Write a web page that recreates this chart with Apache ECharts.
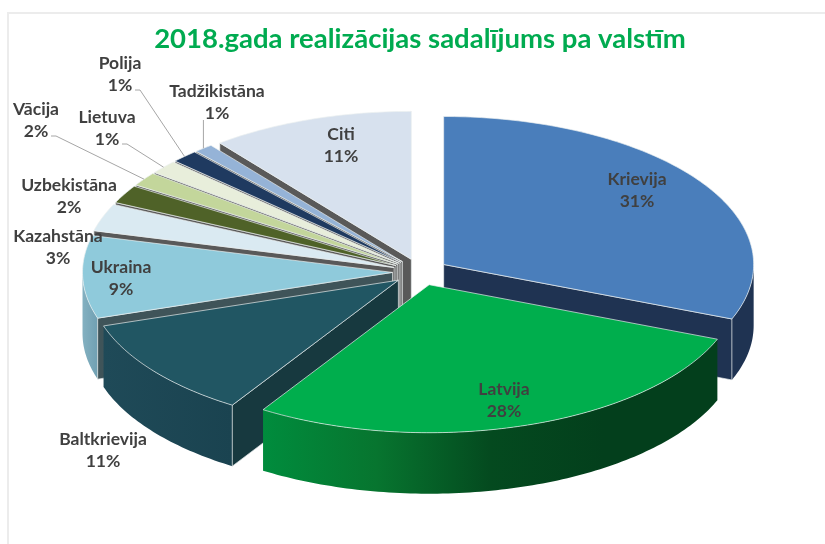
<!DOCTYPE html>
<html>
<head>
<meta charset="utf-8">
<script src="https://cdn.jsdelivr.net/npm/echarts@6/dist/echarts.min.js"></script>
<style>
html, body { margin: 0; padding: 0; background: #fff; }
#chart { width: 825px; height: 544px; }
</style>
</head>
<body>
<div id="chart"></div>
<script>
var categories = ['Krievija', 'Latvija', 'Baltkrievija', 'Ukraina', 'Kazahstāna', 'Uzbekistāna', 'Vācija', 'Lietuva', 'Polija', 'Tadžikistāna', 'Citi'];
// the picture only prints whole percents
var shares = [31, 28, 11, 9, 3, 2, 1.51, 1.49, 1.4, 1, 10.6];

var topColors = ['#4a7ebb', '#00ae4d', '#215663', '#8fcadb', '#daeaf2', '#4f6228', '#c3d69b', '#e8eedb', '#1f3a60', '#95b3d7', '#d7e1ee'];
var edgeColors = ['#1f3352', '#0e3d22', '#17393f', '#3f5459', '#595959', '#595959', '#595959', '#595959', '#595959', '#595959', '#595959'];
var wallStops = [
    ['#1f3352', '#1f3352'], ['#008c3d', '#07752f', '#044a1f', '#033f1c', '#033f1c'], ['#1f4a58', '#1a4350'], ['#84b1c1', '#70a0b2'],
    ['#595959', '#595959'], ['#595959', '#595959'], ['#595959', '#595959'], ['#595959', '#595959'],
    ['#595959', '#595959'], ['#595959', '#595959'], ['#595959', '#595959']
];
// back to front
var drawOrder = [10, 9, 8, 7, 6, 5, 4, 3, 2, 0, 1];
// label centre, pixels
var labelAt = [[637, 190], [504, 400], [103, 450], [121, 278], [58, 247], [69, 196], [36, 120], [107, 128], [120, 74], [217, 102], [341, 145]];
var leaderLabels = [6, 7, 8, 9];

var cx = 420.5, cy = 272, rx = 310, ry = 148, explode = 28, depth = 61;

function arcPoint(center, deg) {
    var a = deg * Math.PI / 180;
    return [center[0] + rx * Math.sin(a), center[1] - ry * Math.cos(a)];
}

function sliceInfo(idx) {
    var before = 0, total = 0;
    for (var i = 0; i < shares.length; i++) {
        if (i < idx) before += shares[i];
        total += shares[i];
    }
    var a0 = before / total * 360;
    var a1 = (before + shares[idx]) / total * 360;
    var mid = (a0 + a1) / 2 * Math.PI / 180;
    var apex = [cx + explode * Math.sin(mid), cy - explode * Math.cos(mid) * ry / rx];
    return {a0: a0, a1: a1, apex: apex};
}

function arcPoints(center, from, to) {
    var pts = [];
    var steps = Math.max(2, Math.ceil(to - from));
    for (var i = 0; i <= steps; i++) {
        pts.push(arcPoint(center, from + (to - from) * i / steps));
    }
    return pts;
}

function down(p) {
    return [p[0], p[1] + depth];
}

function face(points, fill, stroked) {
    return {
        type: 'polygon',
        shape: {points: points},
        style: {fill: fill, stroke: stroked ? 'rgba(235,240,240,0.85)' : fill, lineWidth: stroked ? 0.8 : 0}
    };
}

function renderSlice(params, api) {
    var idx = api.value(0);
    var s = sliceInfo(idx);
    var children = [];
    var p0 = arcPoint(s.apex, s.a0), p1 = arcPoint(s.apex, s.a1);

    var from = Math.max(s.a0, 90), to = Math.min(s.a1, 270);
    if (to > from) {
        var rim = arcPoints(s.apex, from, to);
        var wall = rim.concat(rim.slice().reverse().map(down));
        var stops = wallStops[idx];
        children.push(face(wall, {
            type: 'linear', x: 0, y: 0, x2: 1, y2: 0,
            colorStops: stops.map(function (c, k) { return {offset: k / (stops.length - 1), color: c}; })
        }, false));
    }
    if (Math.sin(s.a0 * Math.PI / 180) < 0) {
        children.push(face([s.apex, p0, down(p0), down(s.apex)], edgeColors[idx], true));
    }
    if (Math.sin(s.a1 * Math.PI / 180) > 0) {
        children.push(face([s.apex, p1, down(p1), down(s.apex)], edgeColors[idx], true));
    }
    children.push(face([s.apex].concat(arcPoints(s.apex, s.a0, s.a1)), topColors[idx], true));
    return {type: 'group', children: children};
}

function renderLabel(params, api) {
    var idx = api.value(0);
    var at = labelAt[idx];
    var children = [];
    if (leaderLabels.indexOf(idx) >= 0) {
        var s = sliceInfo(idx);
        var rimAt = arcPoint(s.apex, (s.a0 + s.a1) / 2);
        var start = [at[0] + 15, at[1] + 16];
        var pts = idx === 9 ? [[rimAt[0], at[1] + 18], [rimAt[0], rimAt[1]]] : [start, [start[0] + 5, start[1]], rimAt];
        children.push({
            type: 'polyline',
            shape: {points: pts},
            style: {fill: 'none', stroke: '#a6a6a6', lineWidth: 1}
        });
    }
    children.push({
        type: 'text',
        style: {
            x: at[0], y: at[1],
            text: categories[idx] + '\n' + Math.round(api.value(1)) + '%',
            fill: '#404040',
            font: 'bold 17.5px Lato',
            lineHeight: 22,
            align: 'center',
            verticalAlign: 'middle'
        }
    });
    return {type: 'group', children: children};
}

var chart = echarts.init(document.getElementById('chart'), null, {renderer: 'canvas'});
chart.setOption({
    backgroundColor: '#ffffff',
    animation: false,
    title: {
        text: '2018.gada realizācijas sadalījums pa valstīm',
        left: 415,
        top: 20,
        textAlign: 'center',
        textStyle: {color: '#00ab50', fontFamily: 'Lato', fontWeight: 'bold', fontSize: 27.5}
    },
    graphic: [{
        type: 'rect',
        silent: true,
        shape: {x: 8, y: 13, width: 900, height: 600},
        style: {fill: 'none', stroke: '#ececec', lineWidth: 2}
    }],
    series: [
        {
            type: 'custom',
            coordinateSystem: 'none',
            renderItem: renderSlice,
            silent: true,
            data: drawOrder.map(function (i) { return [i, shares[i]]; })
        },
        {
            type: 'custom',
            coordinateSystem: 'none',
            renderItem: renderLabel,
            silent: true,
            z: 5,
            data: categories.map(function (c, i) { return [i, shares[i]]; })
        }
    ]
});
</script>
</body>
</html>
